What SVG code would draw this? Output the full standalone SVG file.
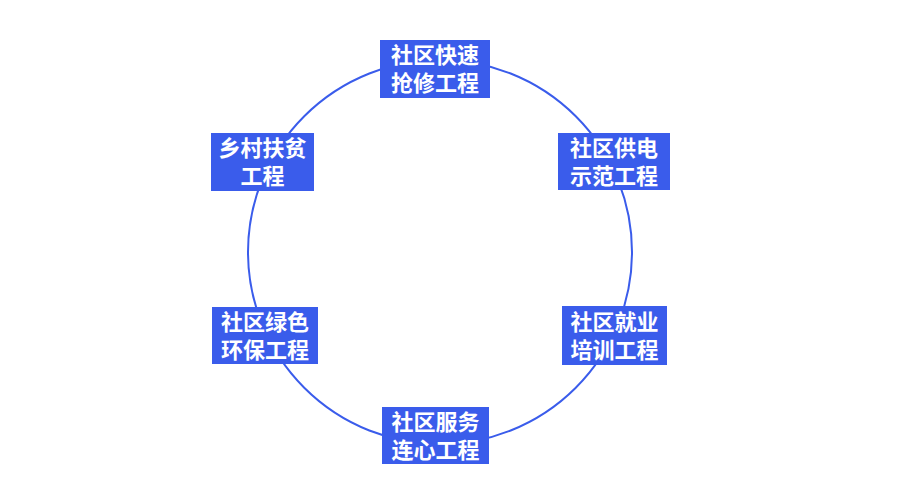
<svg xmlns="http://www.w3.org/2000/svg" width="900" height="500" viewBox="0 0 900 500">
<style>
.box{fill:#3a5ceb;}
.t{fill:#ffffff;font-family:"Liberation Sans","Noto Sans CJK SC",sans-serif;font-size:22px;font-weight:bold;text-anchor:middle;}
.ring{fill:none;stroke:#3a5ceb;stroke-width:2;}
</style>
<rect width="900" height="500" fill="#ffffff"/>
<g id="connectors">
<circle class="ring" cx="440" cy="252" r="192"/>
</g>
<g id="n1"><rect class="box" x="380" y="40" width="110" height="58"/><text class="t" x="435" y="63">社区快速</text><text class="t" x="435" y="91">抢修工程</text></g>
<g id="n2"><rect class="box" x="558" y="133" width="112" height="57"/><text class="t" x="614" y="156">社区供电</text><text class="t" x="614" y="184">示范工程</text></g>
<g id="n3"><rect class="box" x="562" y="306" width="105" height="59"/><text class="t" x="614.5" y="330">社区就业</text><text class="t" x="614.5" y="358">培训工程</text></g>
<g id="n4"><rect class="box" x="382" y="407" width="107" height="57"/><text class="t" x="435.5" y="430">社区服务</text><text class="t" x="435.5" y="458">连心工程</text></g>
<g id="n5"><rect class="box" x="212" y="307" width="106" height="57"/><text class="t" x="265" y="330">社区绿色</text><text class="t" x="265" y="358">环保工程</text></g>
<g id="n6"><rect class="box" x="211" y="133" width="103" height="58"/><text class="t" x="262.5" y="156">乡村扶贫</text><text class="t" x="262.5" y="184">工程</text></g>
</svg>
